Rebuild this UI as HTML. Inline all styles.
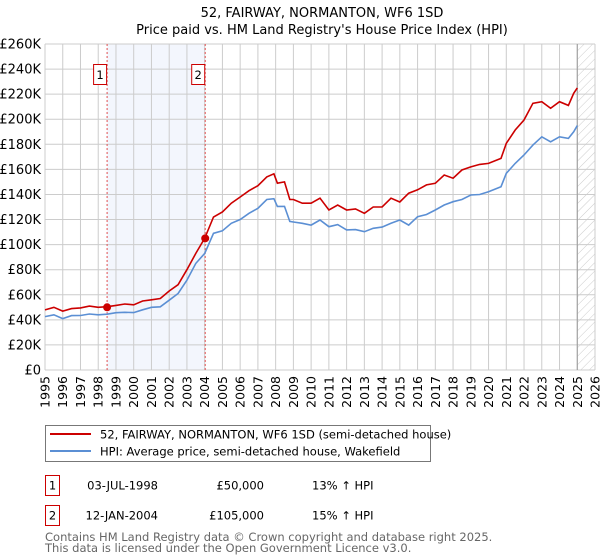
<!DOCTYPE html>
<html><head><meta charset="utf-8"><style>
body{margin:0;background:#fff;}
svg{display:block;font-family:"DejaVu Sans","Liberation Sans",sans-serif;}
</style></head><body>
<svg id="chart" width="600" height="560" viewBox="0 0 600 560">
<defs><pattern id="hatch" width="6" height="6" patternUnits="userSpaceOnUse" patternTransform="rotate(45)"><line x1="0" y1="0" x2="0" y2="6" stroke="#ccc" stroke-width="1"/></pattern></defs>
<text x="322" y="17" text-anchor="middle" font-size="13">52, FAIRWAY, NORMANTON, WF6 1SD</text>
<text x="322" y="34" text-anchor="middle" font-size="13">Price paid vs. HM Land Registry's House Price Index (HPI)</text>
<g id="grid"></g><g id="marks"></g><g id="axes"></g>
<g>
<rect x="45.5" y="425.5" width="385" height="36" fill="#fff" stroke="#777"/>
<line x1="50" y1="434" x2="91" y2="434" stroke="#cc0000" stroke-width="2"/>
<text x="100" y="438.5" font-size="11.5">52, FAIRWAY, NORMANTON, WF6 1SD (semi-detached house)</text>
<line x1="50" y1="451" x2="91" y2="451" stroke="#5b8fd4" stroke-width="2"/>
<text x="100" y="455.5" font-size="11.5">HPI: Average price, semi-detached house, Wakefield</text>
</g>
<g font-size="11.5">
<rect x="45.5" y="475.5" width="14" height="20" fill="#fff" stroke="#cc0000"/>
<text x="52.5" y="489.5" text-anchor="middle">1</text>
<text x="158" y="489.5" text-anchor="end">03-JUL-1998</text>
<text x="264" y="489.5" text-anchor="end">£50,000</text>
<text x="312" y="489.5">13% ↑ HPI</text>
<rect x="45.5" y="505.5" width="14" height="20" fill="#fff" stroke="#cc0000"/>
<text x="52.5" y="519.5" text-anchor="middle">2</text>
<text x="158" y="519.5" text-anchor="end">12-JAN-2004</text>
<text x="264" y="519.5" text-anchor="end">£105,000</text>
<text x="312" y="519.5">15% ↑ HPI</text>
</g>
<text x="45" y="541" font-size="11.5" fill="#666">Contains HM Land Registry data © Crown copyright and database right 2025.</text>
<text x="45" y="552" font-size="11.5" fill="#666">This data is licensed under the Open Government Licence v3.0.</text>
</svg>
<script>
const years=[1995,1995.5,1996,1996.5,1997,1997.5,1998,1998.5,1999,1999.5,2000,2000.5,2001,2001.5,2002,2002.5,2003,2003.5,2004,2004.5,2005,2005.5,2006,2006.5,2007,2007.5,2007.9,2008.1,2008.5,2008.8,2009,2009.5,2010,2010.5,2011,2011.5,2012,2012.5,2013,2013.5,2014,2014.5,2015,2015.5,2016,2016.5,2017,2017.5,2018,2018.5,2019,2019.5,2020,2020.7,2021,2021.5,2022,2022.5,2023,2023.5,2024,2024.5,2024.8,2025];
const hpiValues=[42.6,44,41,43.4,43.5,44.7,44,44.5,45.7,46,45.8,48,50,50.4,55.7,61,71.6,85,93,109,111,117,120,125,129,136,136.6,130.5,130.5,118.5,118,117,115.6,119.6,114.3,116,111.7,112,110.3,113,114,117,119.6,115.6,122.3,124,127.6,131.6,134.2,136,139.6,140,142.2,146.2,156.9,164.8,171.5,179.4,186,182,186,184.7,190,195];
const priceValues=[47.9,50,47,49,49.5,51,50,50.5,51.5,52.6,52,55,56,57,63,68,80,93,105,122,126,133,138,143,147,154,156.5,149,150,136,136,133,133,137,127.6,131.6,127.6,128.5,125,130,130,137,134,141,143.7,147.6,148.9,155.5,153,159.5,162,164,164.8,168.8,180.8,191.4,199.4,212.7,214,208.7,214,211,220.7,225];
const yTicks=[0,20,40,60,80,100,120,140,160,180,200,220,240,260];
const xTicks=[1995,1996,1997,1998,1999,2000,2001,2002,2003,2004,2005,2006,2007,2008,2009,2010,2011,2012,2013,2014,2015,2016,2017,2018,2019,2020,2021,2022,2023,2024,2025,2026];
const saleYears=[1998.5,2004.03];
const saleValues=[50,105];
const saleLabels=["1","2"];
const X0=45,X1=595,Y0=370,Y1=44;
const sx=y=>X0+(y-1995)/(2026-1995)*(X1-X0);
const sy=v=>Y0-v/260*(Y0-Y1);
const NS="http://www.w3.org/2000/svg";
function mk(tag,attrs,parent){const e=document.createElementNS(NS,tag);for(const k in attrs)e.setAttribute(k,attrs[k]);parent.appendChild(e);return e;}
const grid=document.getElementById('grid'),marks=document.getElementById('marks'),axes=document.getElementById('axes');
let r=mk('rect',{x:sx(saleYears[0]),y:Y1,width:sx(saleYears[1])-sx(saleYears[0]),height:Y0-Y1,fill:'#f3f6fd'},grid);


let h=mk('rect',{x:sx(2025),y:Y1,width:X1-sx(2025),height:Y0-Y1,fill:'url(#hatch)'},grid);


yTicks.forEach(t=>{
 let l=mk('line',{x1:X0,x2:X1,y1:sy(t),y2:sy(t),stroke:'#ccc','stroke-width':1},grid);
 
 
 let tx=mk('text',{x:X0-4,y:sy(t)+4.5,'text-anchor':'end','font-size':13},axes);
 tx.textContent='£'+t+(t?'K':'');
 
 
});
xTicks.forEach(t=>{
 let l=mk('line',{x1:sx(t),x2:sx(t),y1:Y1,y2:Y0,stroke:'#ccc','stroke-width':1},grid);
 
 
 let tx=mk('text',{x:0,y:0,'text-anchor':'end','font-size':12.5,transform:`translate(${sx(t)+4.5},${Y0+6}) rotate(-90)`},axes);
 tx.textContent=t;
 
 
});
let v=mk('line',{x1:sx(2025),x2:sx(2025),y1:Y1,y2:Y0,stroke:'#999','stroke-width':1},grid);


saleYears.forEach((y,i)=>{
 let l=mk('line',{x1:sx(y),x2:sx(y),y1:Y1,y2:Y0,stroke:'#e05050','stroke-width':1,'stroke-dasharray':'2,2'},marks);
 
 
 let b=mk('rect',{x:sx(y)-13.5,y:64.5,width:13,height:20,fill:'#fff',stroke:'#cc0000'},marks);
 
 
 let t=mk('text',{x:sx(y)-7,y:79,'text-anchor':'middle','font-size':11.5},marks);
 t.textContent=saleLabels[i];
 
 
});
const pts=vals=>vals.map((v,i)=>sx(years[i]).toFixed(1)+','+sy(v).toFixed(1)).join(' ');
let hp=mk('polyline',{points:pts(hpiValues),fill:'none',stroke:'#5b8fd4','stroke-width':1.6},marks);


let pp=mk('polyline',{points:pts(priceValues),fill:'none',stroke:'#cc0000','stroke-width':1.6},marks);


saleYears.forEach((y,i)=>{
 let c=mk('circle',{cx:sx(y),cy:sy(saleValues[i]),r:4,fill:'#cc0000'},marks);
 
 
});
</script>
</body></html>
